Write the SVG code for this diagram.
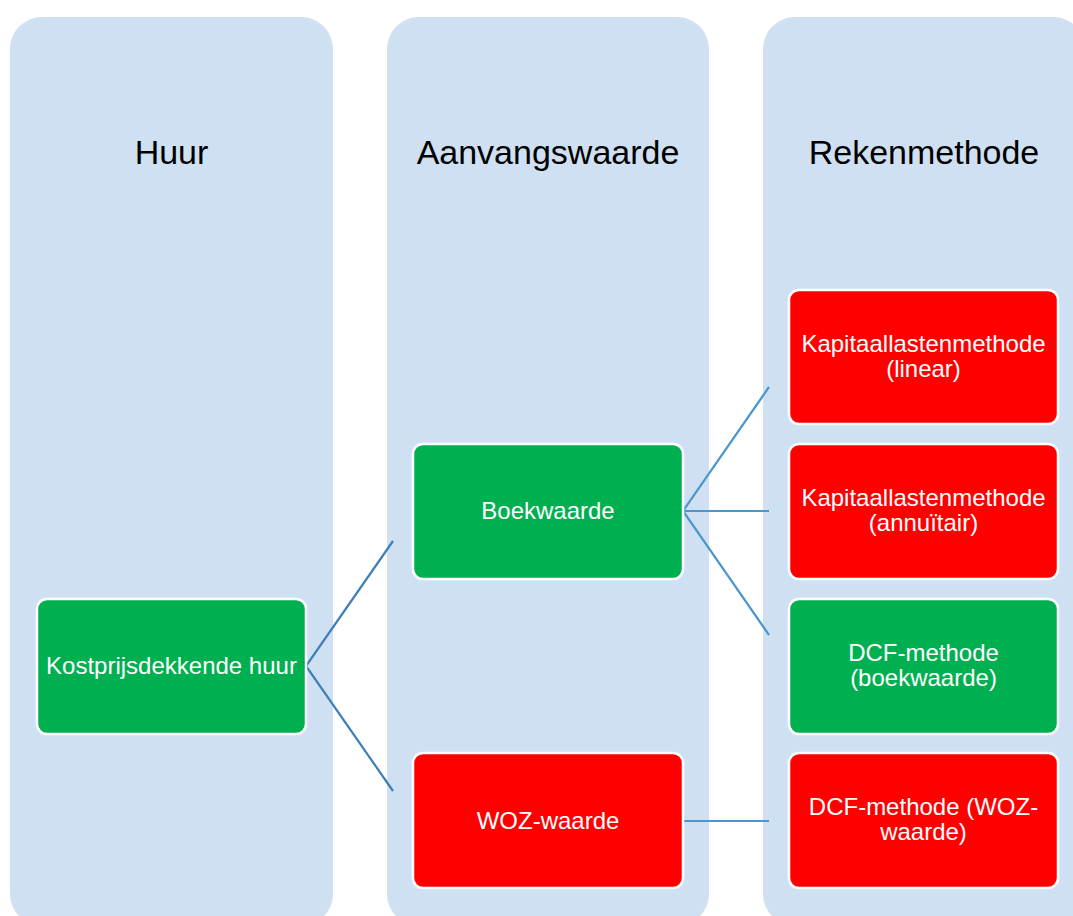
<svg xmlns="http://www.w3.org/2000/svg" width="1073" height="916" viewBox="0 0 1073 916">
<style>
.col{fill:#cfe0f2}
.title{font-family:"Liberation Sans",Arial,sans-serif;font-size:34px;fill:#000;text-anchor:middle}
.node rect{stroke:#fff;stroke-width:2.5}
.g{fill:#00b050}
.r{fill:#ff0000}
.t{font-family:"Liberation Sans",Arial,sans-serif;font-size:24px;fill:#fff;text-anchor:middle}
.c1{stroke:#3f7fb8;stroke-width:2.2;fill:none}
.c2{stroke:#4a97cf;stroke-width:2.2;fill:none}
</style>
<rect width="1073" height="916" fill="#fff"/>
<g id="col-huur">
<rect class="col" x="10" y="17" width="323" height="909" rx="32"/>
<text class="title" x="171.5" y="164">Huur</text>
</g>
<g id="col-aanvangswaarde">
<rect class="col" x="387" y="17" width="322" height="909" rx="32"/>
<text class="title" x="548" y="164">Aanvangswaarde</text>
</g>
<g id="col-rekenmethode">
<rect class="col" x="763" y="17" width="322" height="909" rx="32"/>
<text class="title" x="924" y="164">Rekenmethode</text>
</g>
<g id="connectors">
<polyline class="c1" points="393,541 306,666 393,791"/>
<polyline class="c2" points="769,387 683,511 769,635"/>
<line class="c2" x1="683" y1="511" x2="769" y2="511"/>
<line class="c2" x1="683" y1="821" x2="769" y2="821"/>
</g>
<g id="n-kostprijs" class="node">
<rect class="g" x="37" y="599" width="269" height="135" rx="10"/>
<text class="t" x="171.5" y="674">Kostprijsdekkende huur</text>
</g>
<g id="n-boekwaarde" class="node">
<rect class="g" x="413" y="444" width="270" height="135" rx="10"/>
<text class="t" x="548" y="519">Boekwaarde</text>
</g>
<g id="n-woz" class="node">
<rect class="r" x="413" y="753" width="270" height="135" rx="10"/>
<text class="t" x="548" y="829">WOZ-waarde</text>
</g>
<g id="n-kap-lin" class="node">
<rect class="r" x="789" y="290" width="269" height="134" rx="10"/>
<text class="t" x="923.5" y="352">Kapitaallastenmethode</text>
<text class="t" x="923.5" y="377">(linear)</text>
</g>
<g id="n-kap-ann" class="node">
<rect class="r" x="789" y="444" width="269" height="135" rx="10"/>
<text class="t" x="923.5" y="506">Kapitaallastenmethode</text>
<text class="t" x="923.5" y="531">(annuïtair)</text>
</g>
<g id="n-dcf-boek" class="node">
<rect class="g" x="789" y="599" width="269" height="135" rx="10"/>
<text class="t" x="923.5" y="661">DCF-methode</text>
<text class="t" x="923.5" y="686">(boekwaarde)</text>
</g>
<g id="n-dcf-woz" class="node">
<rect class="r" x="789" y="753" width="269" height="135" rx="10"/>
<text class="t" x="923.5" y="815">DCF-methode (WOZ-</text>
<text class="t" x="923.5" y="840">waarde)</text>
</g>
</svg>
